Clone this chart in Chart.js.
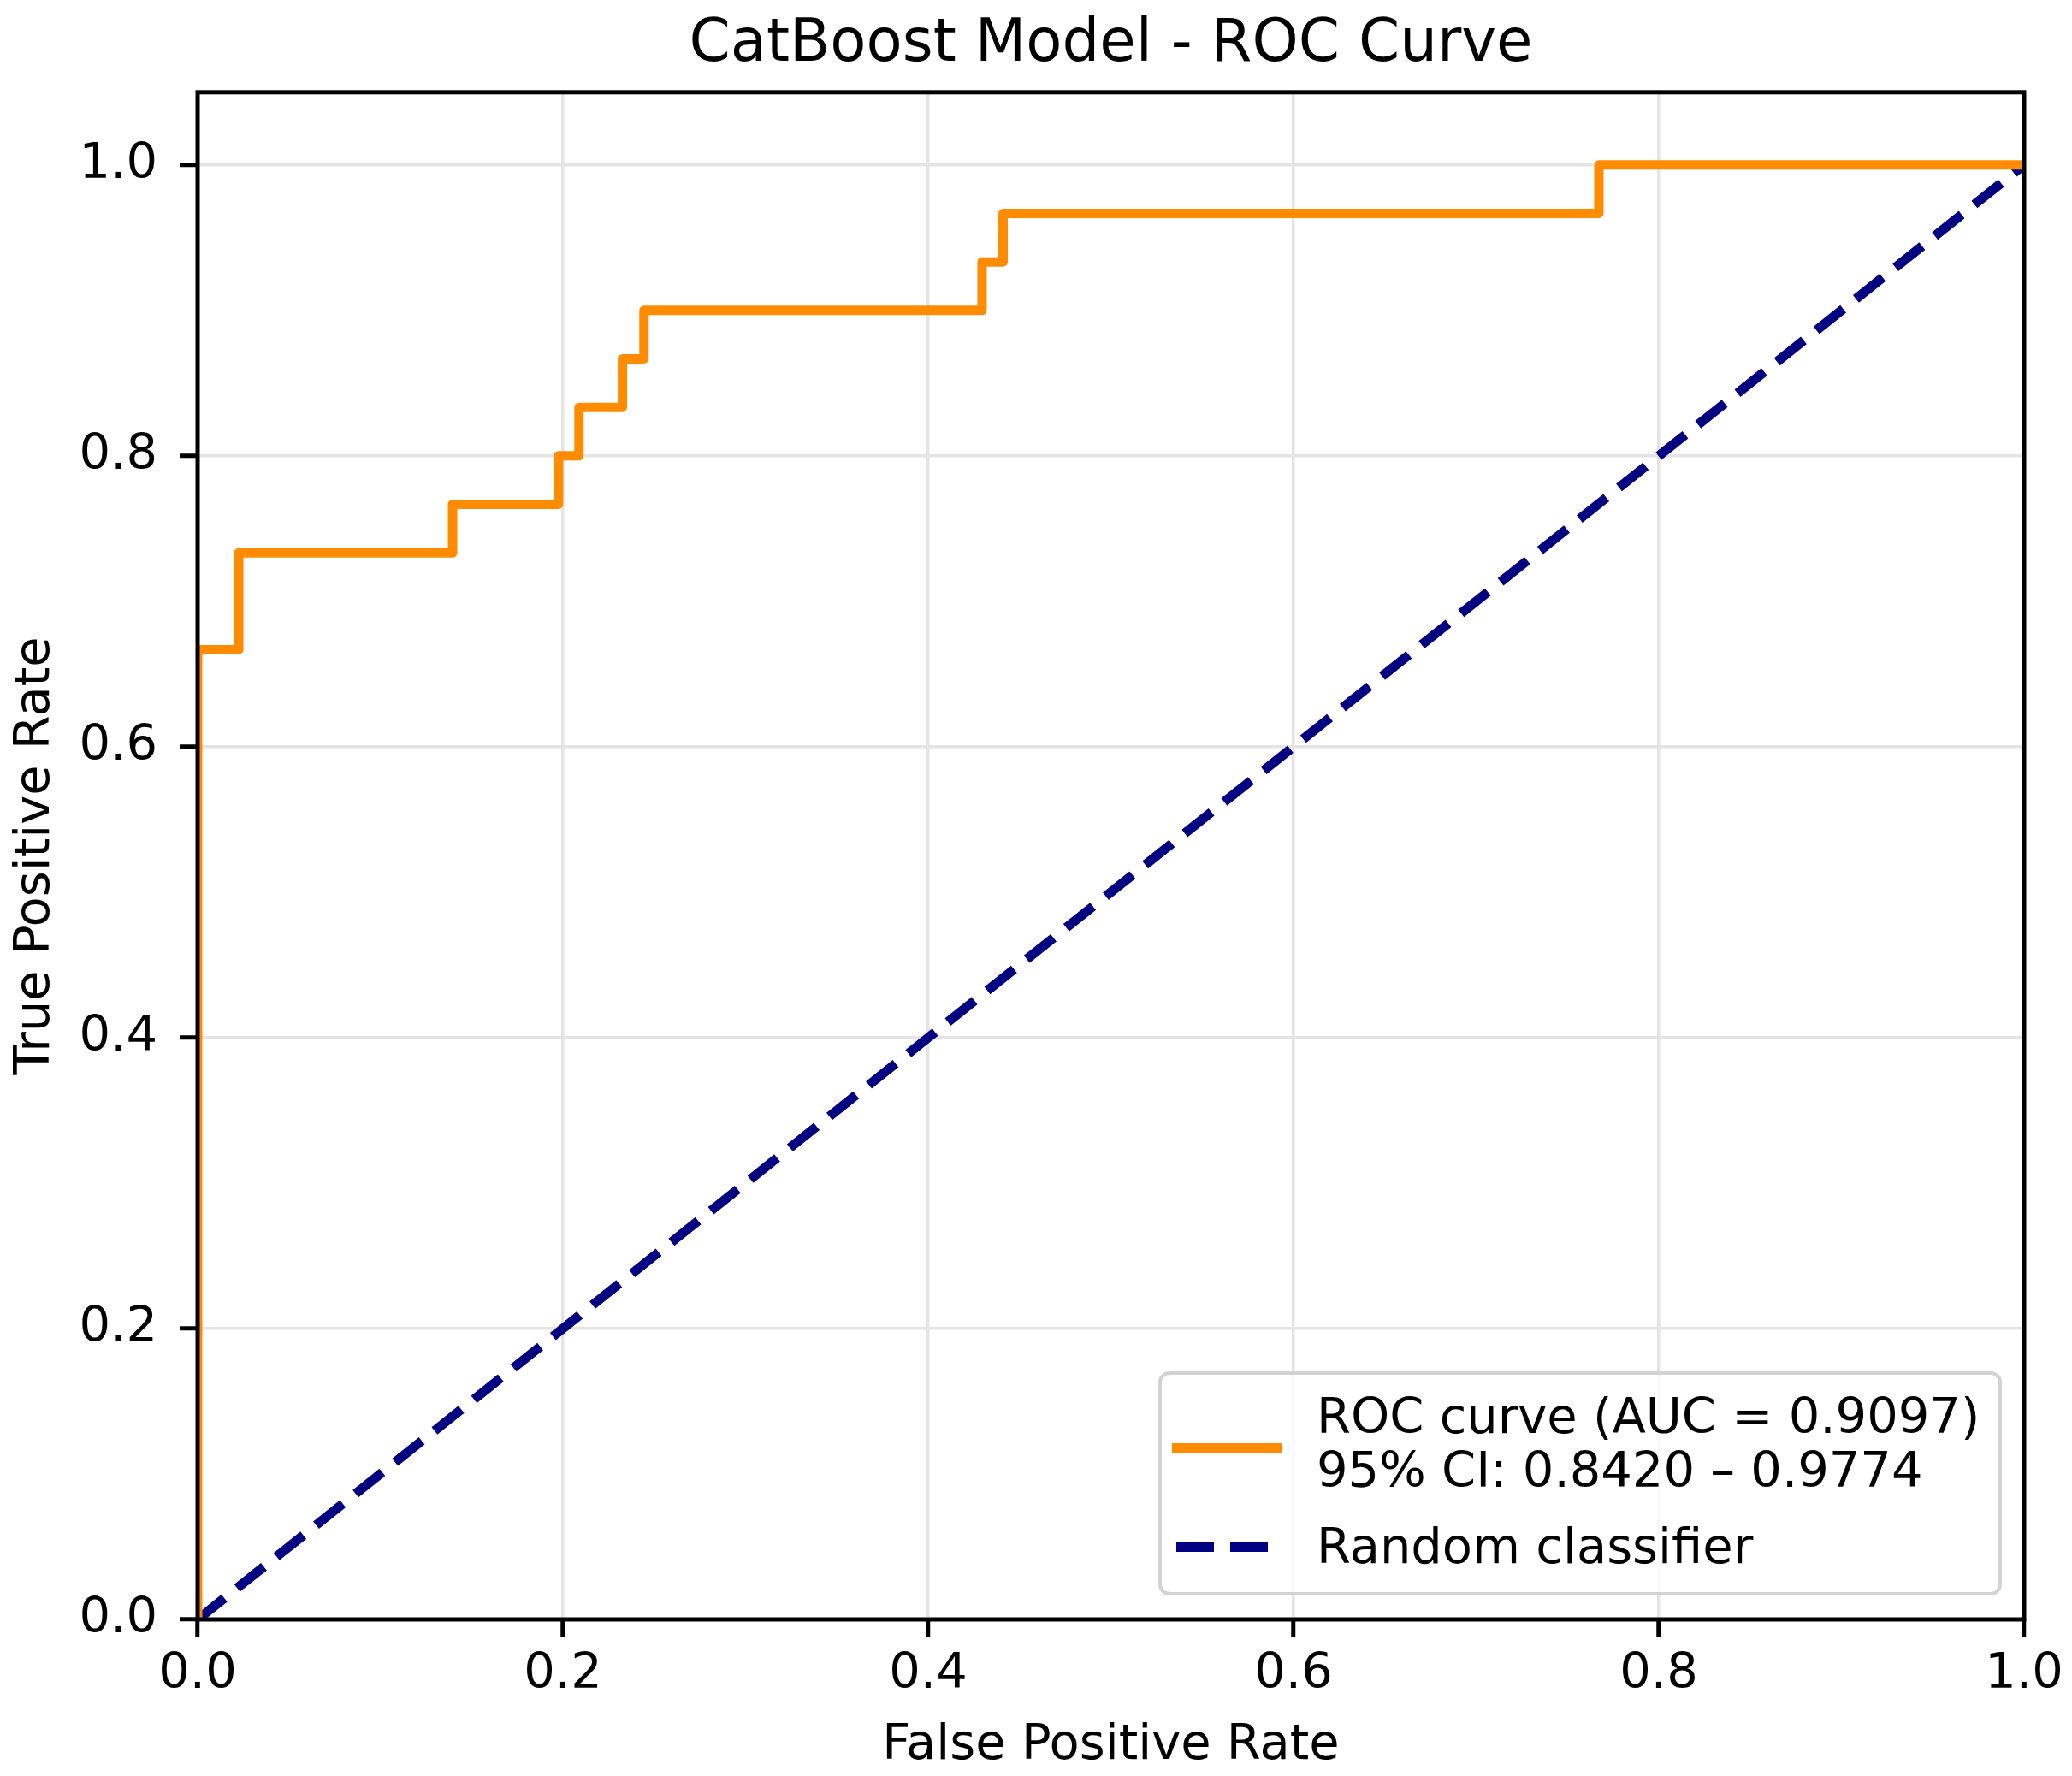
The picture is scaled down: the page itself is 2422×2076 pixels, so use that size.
<!DOCTYPE html>
<html><head><meta charset="utf-8">
<script src="https://cdn.jsdelivr.net/npm/chart.js@4.4.1/dist/chart.umd.min.js"></script>
<style>html,body{margin:0;padding:0;background:#fff;overflow:hidden}canvas{display:block}</style>
</head><body>
<canvas id="c" width="2422" height="2076"></canvas>
<script>
// ---- data ----
const titleText = 'CatBoost Model - ROC Curve';
const xTitle = 'False Positive Rate';
const yTitle = 'True Positive Rate';
const tickValues = [0, 0.2, 0.4, 0.6, 0.8, 1.0];
const rocFpr = [0, 0, 0.0225, 0.0225, 0.1396, 0.1396, 0.1976, 0.1976, 0.2088, 0.2088, 0.2326, 0.2326, 0.2444, 0.2444, 0.4295, 0.4295, 0.4410, 0.4410, 0.7672, 0.7672, 1.0];
const rocTpr = [0, 0.6667, 0.6667, 0.7333, 0.7333, 0.7667, 0.7667, 0.8000, 0.8000, 0.8333, 0.8333, 0.8667, 0.8667, 0.9000, 0.9000, 0.9333, 0.9333, 0.9667, 0.9667, 1.0, 1.0];
const randomX = [0, 1];
const randomY = [0, 1];
const rocLabel = ['ROC curve (AUC = 0.9097)', '95% CI: 0.8420 \u2013 0.9774'];
const randomLabel = 'Random classifier';

const FONT = '"DejaVu Sans"';
Chart.defaults.font.family = FONT;

const framePlugin = {
  id: 'frame',
  afterDraw(chart) {
    const {ctx, chartArea: a} = chart;
    ctx.save();
    // spines
    ctx.strokeStyle = '#000';
    ctx.lineWidth = 5;
    ctx.strokeRect(a.left, a.top, a.right - a.left, a.bottom - a.top);
    // legend
    const ds = chart.data.datasets;
    const fs = 57.5;
    const R = a.right - 28, B = a.bottom - 30, W = 982, H = 258;
    const L = R - W, T = B - H, r = 11;
    ctx.beginPath();
    ctx.moveTo(L + r, T);
    ctx.lineTo(R - r, T); ctx.arcTo(R, T, R, T + r, r);
    ctx.lineTo(R, B - r); ctx.arcTo(R, B, R - r, B, r);
    ctx.lineTo(L + r, B); ctx.arcTo(L, B, L, B - r, r);
    ctx.lineTo(L, T + r); ctx.arcTo(L, T, L + r, T, r);
    ctx.closePath();
    ctx.fillStyle = 'rgba(255,255,255,0.8)';
    ctx.fill();
    ctx.strokeStyle = '#d2d2d2';
    ctx.lineWidth = 4;
    ctx.stroke();
    // handles
    ctx.lineCap = 'butt';
    ctx.lineWidth = 12;
    ctx.strokeStyle = ds[0].borderColor;
    ctx.setLineDash([]);
    ctx.beginPath(); ctx.moveTo(L + 14, T + 88); ctx.lineTo(L + 143, T + 88); ctx.stroke();
    ctx.strokeStyle = ds[1].borderColor;
    ctx.setLineDash([44, 19]);
    ctx.beginPath(); ctx.moveTo(L + 19, T + 203); ctx.lineTo(L + 126, T + 203); ctx.stroke();
    ctx.setLineDash([]);
    // text
    ctx.fillStyle = '#000';
    ctx.font = fs + 'px ' + FONT;
    ctx.textAlign = 'left';
    ctx.textBaseline = 'middle';
    ctx.fillText(rocLabel[0], L + 183, T + 55);
    ctx.fillText(rocLabel[1], L + 183, T + 118);
    ctx.fillText(randomLabel, L + 183, T + 207);
    ctx.restore();
  }
};

const tickFont = {family: FONT, size: 57.5, weight: 'normal'};

new Chart(document.getElementById('c'), {
  type: 'scatter',
  data: {
    datasets: [
      {
        label: rocLabel.join(' '),
        data: rocFpr.map((x, i) => ({x: x, y: rocTpr[i]})),
        showLine: true, borderColor: '#ff8c00', backgroundColor: '#ff8c00',
        borderWidth: 11, pointRadius: 0, tension: 0, fill: false,
        borderJoinStyle: 'round', borderCapStyle: 'butt', clip: 0
      },
      {
        label: randomLabel,
        data: randomX.map((x, i) => ({x: x, y: randomY[i]})),
        showLine: true, borderColor: '#000080', backgroundColor: '#000080',
        borderWidth: 11, borderDash: [40, 19], pointRadius: 0, tension: 0, fill: false,
        borderCapStyle: 'butt', clip: 0
      }
    ]
  },
  options: {
    responsive: false, devicePixelRatio: 1, animation: false, events: [],
    layout: {padding: {left: 0, right: 56, top: 0, bottom: 0}},
    plugins: {
      legend: {display: false},
      tooltip: {enabled: false},
      title: {
        display: true, fullSize: false, text: titleText, color: '#000',
        font: {family: FONT, size: 69, weight: 'normal'},
        padding: {top: 12, bottom: 13}
      }
    },
    scales: {
      x: {
        type: 'linear', position: 'bottom', min: 0, max: 1,
        afterBuildTicks: s => { s.ticks = tickValues.map(v => ({value: v})); },
        afterFit: s => { s.height = 183; },
        grid: {color: '#e4e4e4', lineWidth: 3.5, drawTicks: true, tickLength: 21, tickColor: '#000', tickWidth: 5},
        border: {display: false},
        ticks: {color: '#000', font: tickFont, padding: 10, maxRotation: 0, autoSkip: false,
                callback: v => Number(v).toFixed(1)},
        title: {display: true, text: xTitle, color: '#000', font: tickFont, padding: {top: 0, bottom: 0}}
      },
      y: {
        type: 'linear', position: 'left', min: 0, max: 1.05,
        afterBuildTicks: s => { s.ticks = tickValues.map(v => ({value: v})); },
        afterFit: s => { s.width = 231; },
        grid: {color: '#e4e4e4', lineWidth: 3.5, drawTicks: true, tickLength: 21, tickColor: '#000', tickWidth: 5},
        border: {display: false},
        ticks: {color: '#000', font: tickFont, padding: 26, autoSkip: false,
                callback: v => Number(v).toFixed(1)},
        title: {display: true, text: yTitle, color: '#000', font: tickFont, padding: {top: 8, bottom: 0}}
      }
    }
  },
  plugins: [framePlugin]
});
</script>
</body></html>
